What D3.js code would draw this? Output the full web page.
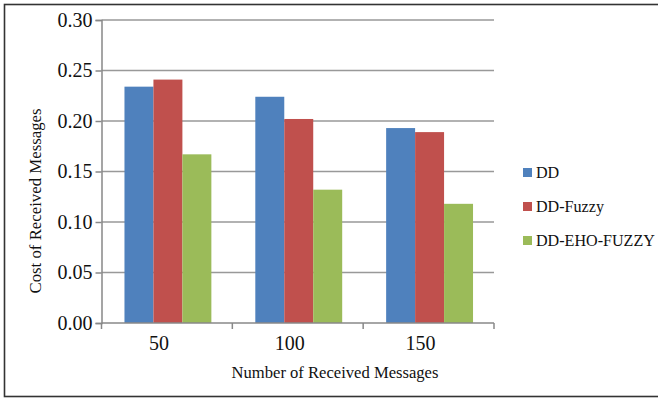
<!DOCTYPE html>
<html>
<head>
<meta charset="utf-8">
<script src="https://cdn.jsdelivr.net/npm/d3@7"></script>
<style>
  html, body { margin: 0; padding: 0; background: #fff; }
  svg { display: block; }
</style>
</head>
<body>
<svg id="chart" width="658" height="398"></svg>
<script>
// Categories along the x axis
const categories = ["50", "100", "150"];
// Series names and colours
const seriesNames = ["DD", "DD-Fuzzy", "DD-EHO-FUZZY"];
const seriesColors = ["#4F81BD", "#C0504D", "#9BBB59"];
// Cost values per series, one per category
const ddValues = [0.234, 0.224, 0.193];
const ddFuzzyValues = [0.241, 0.202, 0.189];
const ddEhoFuzzyValues = [0.167, 0.132, 0.118];
// Y axis tick values
const yTicks = [0.00, 0.05, 0.10, 0.15, 0.20, 0.25, 0.30];

const seriesValues = [ddValues, ddFuzzyValues, ddEhoFuzzyValues];

// Pick the first installed Times-like serif face
function pickSerif() {
  const candidates = ["Liberation Serif", "Tinos", "Times New Roman", "Times", "Nimbus Roman", "DejaVu Serif", "Noto Serif"];
  const ctx = document.createElement("canvas").getContext("2d");
  const sample = "DD-EHO-FUZZY Received Messages 0.123";
  const width = f => { ctx.font = f; return ctx.measureText(sample).width; };
  for (const name of candidates) {
    const a = width(`100px "${name}", monospace`), b = width("100px monospace");
    const c = width(`100px "${name}", sans-serif`), d = width("100px sans-serif");
    if (a !== b || c !== d) return `"${name}", serif`;
  }
  return "serif";
}
const FONT = pickSerif();

const svg = d3.select("#chart");
const W = 658, H = 398;

// Outer frame (open on the right side)
svg.append("rect")
  .attr("x", 4.5).attr("y", 4.5)
  .attr("width", W + 10).attr("height", 392)
  .attr("fill", "none")
  .attr("stroke", "#333")
  .attr("stroke-width", 1.6);

const plot = { left: 101.5, right: 494, top: 20, bottom: 323 };

const x = d3.scaleBand()
  .domain(categories)
  .range([plot.left, plot.right])
  .padding(0);

const groupFrac = 87 / 131;
const xInner = d3.scaleBand()
  .domain(seriesNames)
  .range([0, x.bandwidth() * groupFrac])
  .padding(0);

const y = d3.scaleLinear()
  .domain([0, 0.30])
  .range([plot.bottom, plot.top]);

// Horizontal gridlines
svg.append("g")
  .selectAll("line")
  .data(yTicks.filter(d => d > 0))
  .join("line")
  .attr("x1", plot.left).attr("x2", plot.right)
  .attr("y1", d => y(d)).attr("y2", d => y(d))
  .attr("stroke", "#999")
  .attr("stroke-width", 1.5);

// Bars
const groups = svg.append("g")
  .selectAll("g")
  .data(categories)
  .join("g")
  .attr("transform", d => `translate(${x(d) + (x.bandwidth() * (1 - groupFrac)) / 2 + 1},0)`);

groups.selectAll("rect")
  .data((c, ci) => seriesNames.map((s, si) => ({ s, si, v: seriesValues[si][ci] })))
  .join("rect")
  .attr("x", d => xInner(d.s))
  .attr("width", xInner.bandwidth())
  .attr("y", d => y(d.v))
  .attr("height", d => y(0) - y(d.v))
  .attr("fill", d => seriesColors[d.si]);

// Y axis
const yAxis = d3.axisLeft(y)
  .tickValues(yTicks)
  .tickFormat(d3.format(".2f"))
  .tickSize(6)
  .tickPadding(3);

const yg = svg.append("g")
  .attr("transform", `translate(${plot.left},0)`)
  .call(yAxis)
  .attr("font-family", FONT);
yg.select(".domain").attr("stroke", "#888").attr("stroke-width", 1.5);
yg.selectAll(".tick line").attr("stroke", "#888").attr("stroke-width", 1.5);
yg.selectAll(".tick text")
  .attr("font-size", 20)
  .attr("font-family", FONT)
  .attr("fill", "#111");

// X axis: ticks at category boundaries
const xAxisG = svg.append("g").attr("transform", `translate(0,${plot.bottom})`);
xAxisG.append("line")
  .attr("x1", plot.left).attr("x2", plot.right)
  .attr("stroke", "#888").attr("stroke-width", 1.5);
const boundaries = categories.map(c => x(c)).concat([plot.right]);
xAxisG.selectAll("line.tk")
  .data(boundaries)
  .join("line")
  .attr("class", "tk")
  .attr("x1", d => d).attr("x2", d => d)
  .attr("y1", 0).attr("y2", 6)
  .attr("stroke", "#888").attr("stroke-width", 1.5);
xAxisG.selectAll("text")
  .data(categories)
  .join("text")
  .attr("x", d => x(d) + x.bandwidth() / 2 - 8)
  .attr("y", 27)
  .attr("text-anchor", "middle")
  .attr("font-size", 20)
  .attr("font-family", FONT)
  .attr("fill", "#111")
  .text(d => d);

// Axis titles
svg.append("text")
  .attr("x", 335)
  .attr("y", 378)
  .attr("text-anchor", "middle")
  .attr("font-size", 16.6)
  .attr("font-family", FONT)
  .attr("fill", "#111")
  .text("Number of Received Messages");

svg.append("text")
  .attr("transform", "translate(41,201) rotate(-90)")
  .attr("text-anchor", "middle")
  .attr("font-size", 16.8)
  .attr("font-family", FONT)
  .attr("fill", "#111")
  .text("Cost of Received Messages");

// Legend
const legend = svg.append("g")
  .selectAll("g")
  .data(seriesNames)
  .join("g")
  .attr("transform", (d, i) => `translate(523,${172.5 + i * 34})`);
legend.append("rect")
  .attr("x", 0).attr("y", -4.5)
  .attr("width", 9).attr("height", 9)
  .attr("fill", (d, i) => seriesColors[i]);
legend.append("text")
  .attr("x", 13)
  .attr("y", 5.5)
  .attr("font-size", 16.1)
  .attr("font-family", FONT)
  .attr("fill", "#111")
  .text(d => d);
</script>
</body>
</html>
